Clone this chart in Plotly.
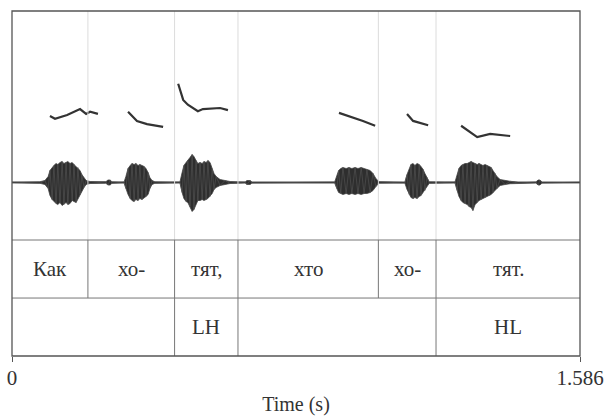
import plotly.graph_objects as go

# ---------------- data ----------------
TOTAL_DUR = 1.586  # seconds

words = ["Как", "хо-", "тят,", "хто", "хо-", "тят."]
word_bounds = [0.0, 0.212, 0.454, 0.631, 1.023, 1.184, 1.586]

tones = ["", "LH", "", "HL"]
tone_bounds = [0.0, 0.454, 0.631, 1.184, 1.586]

# F0 contours (time s, pitch Hz)
f0_1_t = [0.106, 0.120, 0.154, 0.190, 0.207, 0.218, 0.240]
f0_1_hz = [305, 300, 307, 318, 309, 313, 309]
f0_2_t = [0.324, 0.349, 0.377, 0.422]
f0_2_hz = [313, 296, 290, 285]
f0_3_t = [0.464, 0.478, 0.491, 0.519, 0.533, 0.581, 0.603]
f0_3_hz = [365, 335, 326, 314, 318, 320, 316]
f0_4_t = [0.913, 0.952, 0.980, 1.014]
f0_4_hz = [311, 303, 296, 287]
f0_5_t = [1.103, 1.120, 1.162]
f0_5_hz = [309, 296, 288]
f0_6_t = [1.254, 1.299, 1.335, 1.363, 1.391]
f0_6_hz = [287, 266, 272, 270, 268]

# waveform amplitude envelope (time s, upper / lower amplitude, arbitrary units)
wave_t = [0.000, 0.078, 0.092, 0.101, 0.106, 0.112, 0.117, 0.123, 0.128, 0.134,
          0.140, 0.145, 0.151, 0.156, 0.162, 0.168, 0.173, 0.179, 0.184, 0.190,
          0.195, 0.201, 0.207, 0.218, 0.262, 0.268, 0.274, 0.279,
          0.313, 0.318, 0.324, 0.330, 0.335, 0.341, 0.346, 0.352, 0.357, 0.363,
          0.369, 0.374, 0.380, 0.385, 0.391, 0.399,
          0.469, 0.475, 0.480, 0.486, 0.491, 0.497, 0.503, 0.508, 0.514, 0.519,
          0.525, 0.531, 0.536, 0.542, 0.547, 0.553, 0.559, 0.564, 0.570, 0.581,
          0.595, 0.609, 0.651, 0.656, 0.665, 0.670,
          0.901, 0.907, 0.912, 0.918, 0.924, 0.933, 0.941, 0.949, 0.958, 0.966,
          0.975, 0.983, 0.991, 1.000, 1.008, 1.016, 1.025,
          1.097, 1.103, 1.109, 1.114, 1.120, 1.125, 1.131, 1.137, 1.142, 1.148,
          1.153, 1.159, 1.165,
          1.237, 1.243, 1.248, 1.254, 1.259, 1.265, 1.271, 1.276, 1.282, 1.287,
          1.293, 1.299, 1.304, 1.310, 1.315, 1.321, 1.326, 1.332, 1.338, 1.343,
          1.349, 1.354, 1.363, 1.377, 1.391, 1.413, 1.463, 1.469, 1.474, 1.480,
          1.586]
wave_hi = [0.5, 0.8, 2, 6, 12, 15, 17, 19, 18, 20,
           21, 19, 20, 21, 19, 20, 18, 16, 15, 12,
           8, 5, 2, 1, 0.8, 2.5, 2.5, 0.8,
           0.6, 6, 14, 17, 19, 18, 19, 17, 18, 17,
           16, 14, 10, 5, 2, 0.8,
           0.6, 10, 17, 20, 22, 25, 28, 26, 22, 19,
           20, 19, 21, 20, 22, 20, 14, 9, 6, 3,
           2, 1, 0.6, 2, 2, 0.6,
           0.6, 8, 12, 14, 15, 14, 15, 14, 15, 14,
           15, 14, 13, 12, 9, 4, 0.8,
           0.6, 8, 14, 18, 19, 17, 19, 18, 16, 13,
           9, 5, 0.8,
           0.6, 8, 14, 17, 18, 19, 19, 20, 21, 20,
           19, 18, 19, 18, 17, 18, 17, 16, 15, 12,
           9, 6, 3, 2, 1.2, 0.6, 0.6, 2.5, 2.5, 0.6,
           0.5]
wave_lo = [0.5, 0.8, 2, 6, 13, 17, 19, 21, 22, 20,
           23, 22, 20, 22, 21, 18, 19, 20, 16, 12,
           9, 5, 2, 1, 0.8, 2.5, 2.5, 0.8,
           0.6, 6, 12, 16, 18, 19, 17, 18, 16, 17,
           15, 14, 12, 6, 2, 0.8,
           0.6, 10, 16, 19, 20, 24, 29, 27, 22, 18,
           18, 17, 18, 17, 16, 14, 11, 7, 5, 3,
           2, 1, 0.6, 2, 2, 0.6,
           0.6, 6, 10, 11, 12, 11, 12, 11, 12, 11,
           12, 11, 11, 10, 8, 4, 0.8,
           0.6, 7, 12, 15, 16, 15, 16, 14, 13, 11,
           8, 4, 0.8,
           0.6, 8, 14, 18, 20, 21, 22, 24, 25, 28,
           22, 20, 18, 17, 16, 15, 14, 13, 12, 10,
           8, 6, 3, 2, 1.2, 0.6, 0.6, 2.5, 2.5, 0.6,
           0.5]

# ---------------- figure ----------------
FONT = "Liberation Serif"
TXT = "#333333"
TIER_LINE = "#777777"
WAVE_TOP = 0.3362      # paper fraction where the signal panel starts
TIER_MID = 0.168       # boundary between the two tiers

fig = go.Figure()

# waveform as filled envelope
poly_x = wave_t + wave_t[::-1]
poly_y = wave_hi + [-v for v in wave_lo[::-1]]
fig.add_trace(go.Scatter(x=poly_x, y=poly_y, fill="toself", mode="lines",
                         fillcolor="#2e2e2e", line=dict(color="#444444", width=0.8),
                         hoverinfo="skip", showlegend=False, yaxis="y"))
# zig-zag texture across the envelope samples
zz_x, zz_y = [], []
for i, t in enumerate(wave_t):
    zz_x.append(t)
    zz_y.append(wave_hi[i] if i % 2 == 0 else -wave_lo[i])
fig.add_trace(go.Scatter(x=zz_x, y=zz_y, mode="lines",
                         line=dict(color="#555555", width=0.6),
                         hoverinfo="skip", showlegend=False, yaxis="y"))

# pitch contours
for tt, hz in [(f0_1_t, f0_1_hz), (f0_2_t, f0_2_hz), (f0_3_t, f0_3_hz),
               (f0_4_t, f0_4_hz), (f0_5_t, f0_5_hz), (f0_6_t, f0_6_hz)]:
    fig.add_trace(go.Scatter(x=tt, y=hz, mode="lines", yaxis="y2",
                             line=dict(color="#333333", width=2.2),
                             showlegend=False))

shapes = []
# faint boundary lines in the signal panel
for b in word_bounds[1:-1]:
    shapes.append(dict(type="line", xref="x", yref="paper", x0=b, x1=b,
                       y0=WAVE_TOP, y1=1, line=dict(color="#dcdcdc", width=1)))
# tier 1 boundaries
for b in word_bounds[1:-1]:
    shapes.append(dict(type="line", xref="x", yref="paper", x0=b, x1=b,
                       y0=TIER_MID, y1=WAVE_TOP, line=dict(color=TIER_LINE, width=1)))
# tier 2 boundaries
for b in tone_bounds[1:-1]:
    shapes.append(dict(type="line", xref="x", yref="paper", x0=b, x1=b,
                       y0=0, y1=TIER_MID, line=dict(color=TIER_LINE, width=1)))
# horizontal tier separators
for yy in [WAVE_TOP, TIER_MID]:
    shapes.append(dict(type="line", xref="paper", yref="paper", x0=0, x1=1,
                       y0=yy, y1=yy, line=dict(color=TIER_LINE, width=1)))
# outer frame
shapes.append(dict(type="rect", xref="paper", yref="paper", x0=0, x1=1, y0=0, y1=1,
                   line=dict(color="#555555", width=1.3)))

annotations = []
for i, w in enumerate(words):
    mid = (word_bounds[i] + word_bounds[i + 1]) / 2
    annotations.append(dict(x=mid, y=(TIER_MID + WAVE_TOP) / 2, xref="x", yref="paper",
                            xanchor="center", yanchor="middle",
                            text=w, showarrow=False,
                            font=dict(family=FONT, size=21, color=TXT)))
for i, t in enumerate(tones):
    if not t:
        continue
    mid = (tone_bounds[i] + tone_bounds[i + 1]) / 2
    annotations.append(dict(x=mid, y=TIER_MID / 2, xref="x", yref="paper",
                            xanchor="center", yanchor="middle",
                            text=t, showarrow=False,
                            font=dict(family=FONT, size=21, color=TXT)))

fig.update_layout(
    width=609, height=416,
    margin=dict(l=12, r=29, t=11, b=60),
    paper_bgcolor="white", plot_bgcolor="white",
    showlegend=False,
    xaxis=dict(range=[0, TOTAL_DUR], anchor="free", position=0,
               showgrid=False, zeroline=False, showline=False,
               tickvals=[0, TOTAL_DUR], ticktext=["0", "1.586"],
               ticks="outside", ticklen=5, tickcolor="#555555", tickwidth=1,
               ticklabelstandoff=-2, automargin=False,
               tickfont=dict(family=FONT, size=21, color=TXT),
               title=dict(text="Time (s)", standoff=8,
                          font=dict(family=FONT, size=20, color=TXT))),
    yaxis=dict(domain=[WAVE_TOP, 1], range=[-57.5, 171.5], visible=False,
               fixedrange=True),
    yaxis2=dict(overlaying="y", range=[75, 500], visible=False),
    shapes=shapes,
    annotations=annotations,
)

fig.write_html("out.html", config={"displayModeBar": False},
               post_script="document.body.style.margin='0';")
